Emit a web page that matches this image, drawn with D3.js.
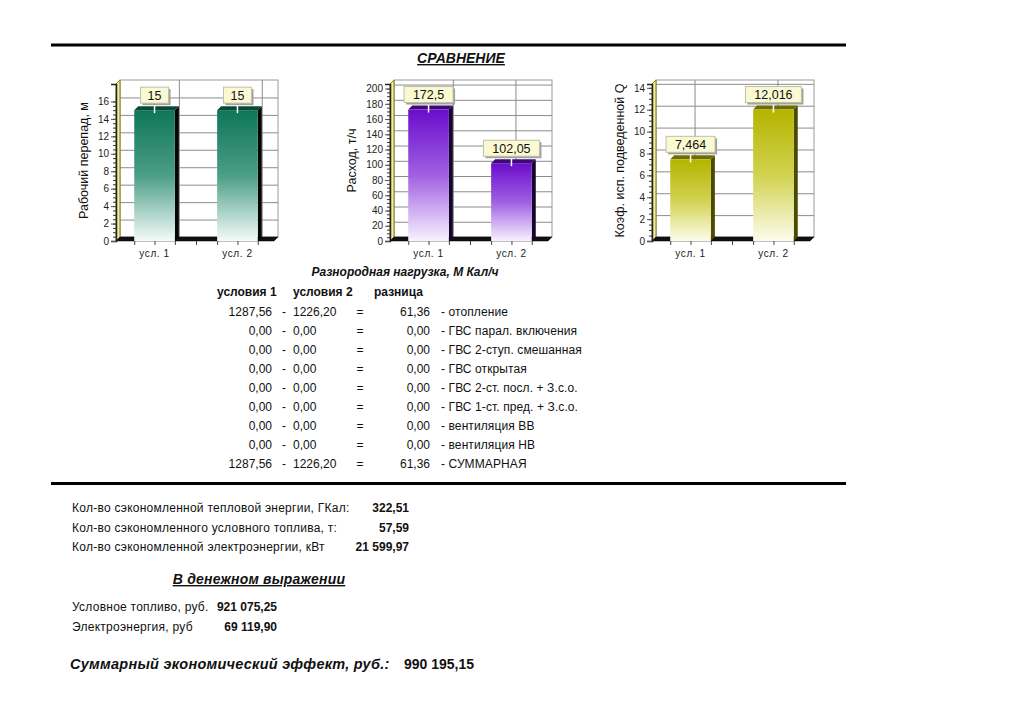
<!DOCTYPE html>
<html><head><meta charset="utf-8">
<script src="https://cdn.jsdelivr.net/npm/d3@7"></script>
<style>
html,body{margin:0;padding:0;background:#fff;}
svg{display:block;font-family:"Liberation Sans",Arial,sans-serif;}
</style></head>
<body>
<svg id="c" width="1023" height="723"></svg>
<script>
// ---------- data ----------
const categories = ["усл. 1", "усл. 2"];
const headValues = [15, 15];
const flowValues = [172.5, 102.05];
const coefValues = [7.464, 12.016];
const headTicks = [0, 2, 4, 6, 8, 10, 12, 14, 16];
const flowTicks = [0, 20, 40, 60, 80, 100, 120, 140, 160, 180, 200];
const coefTicks = [0, 2, 4, 6, 8, 10, 12, 14];
const chartTitles = ["Рабочий перепад, м", "Расход, т/ч", "Коэф. исп. подведенной Q"];

const loadNames = ["отопление", "ГВС парал. включения", "ГВС 2-ступ. смешанная", "ГВС открытая",
  "ГВС 2-ст. посл. + З.с.о.", "ГВС 1-ст. пред. + З.с.о.", "вентиляция ВВ", "вентиляция НВ", "СУММАРНАЯ"];
const cond1Values = [1287.56, 0, 0, 0, 0, 0, 0, 0, 1287.56];
const cond2Values = [1226.20, 0, 0, 0, 0, 0, 0, 0, 1226.20];
const diffValues = [61.36, 0, 0, 0, 0, 0, 0, 0, 61.36];
const tableHeaders = ["условия 1", "условия 2", "разница"];

const savingLabels = ["Кол-во сэкономленной тепловой энергии, ГКал:", "Кол-во сэкономленного условного топлива, т:", "Кол-во сэкономленной электроэнергии, кВт"];
const savingValues = [322.51, 57.59, 21599.97];
const moneyLabels = ["Условное топливо, руб.", "Электроэнергия, руб"];
const moneyValues = [921075.25, 69119.90];
const totalLabel = "Суммарный экономический эффект, руб.:";
const totalValue = 990195.15;

// ---------- helpers ----------
const svg = d3.select("#c");
const ru = d3.formatLocale({decimal: ",", thousands: " ", grouping: [3], currency: ["", ""]});
const fmtPlain = ru.format(".2f");
const fmtGroup = ru.format(",.2f");
const fmtBar = v => String(v).replace(".", ",");

svg.append("rect").attr("width", 1023).attr("height", 723).attr("fill", "#fff");

const defs = svg.append("defs");
const palette = [
  {id: "g1", top: "#0e7657", mid: "#4c9e86", bot: "#f4fbf9", side: "#050505", topFace: "#0a4a37"},
  {id: "g2", top: "#6a0dcc", mid: "#a060e2", bot: "#f8f2fe", side: "#14052a", topFace: "#3e0877"},
  {id: "g3", top: "#b4b400", mid: "#d2d250", bot: "#fcfcec", side: "#4a4a00", topFace: "#6e6e00"}
];
palette.forEach(p => {
  const g = defs.append("linearGradient").attr("id", p.id).attr("x1", 0).attr("y1", 0).attr("x2", 0).attr("y2", 1);
  g.append("stop").attr("offset", "0%").attr("stop-color", p.top);
  g.append("stop").attr("offset", "50%").attr("stop-color", p.mid);
  g.append("stop").attr("offset", "100%").attr("stop-color", p.bot);
});

// ---------- header lines ----------
svg.append("line").attr("x1", 51).attr("x2", 846).attr("y1", 45).attr("y2", 45).attr("stroke", "#000").attr("stroke-width", 3);
svg.append("line").attr("x1", 51).attr("x2", 846).attr("y1", 483.5).attr("y2", 483.5).attr("stroke", "#000").attr("stroke-width", 3);
svg.append("text").attr("x", 461).attr("y", 63).attr("text-anchor", "middle")
  .attr("font-size", 14).attr("font-weight", "bold").attr("font-style", "italic")
  .attr("text-decoration", "underline").attr("fill", "#111").text("СРАВНЕНИЕ");

// ---------- charts ----------
const charts = [
  {L: 116, values: headValues, ticks: headTicks, max: 18, pal: palette[0], title: chartTitles[0], tx: 88, vg: "end"},
  {L: 390, values: flowValues, ticks: flowTicks, max: 206, pal: palette[1], title: chartTitles[1], tx: 356, vg: "mix"},
  {L: 652, values: coefValues, ticks: coefTicks, max: 14.35, pal: palette[2], title: chartTitles[2], tx: 624, vg: "center"}
];
const T = 84, B = 241, W = 158, d = 4;

charts.forEach(c => {
  const L = c.L, R = L + W;
  const g = svg.append("g");
  const y = d3.scaleLinear().domain([0, c.max]).range([B, T]);
  const x = d3.scaleBand().domain(categories).range([L, L + 160]).paddingInner(0.51).paddingOuter(0.22);
  const bw = x.bandwidth();

  // back wall
  g.append("rect").attr("x", L + d).attr("y", T - d).attr("width", W).attr("height", B - T)
    .attr("fill", "#fff").attr("stroke", "#9a9a9a").attr("stroke-width", 1);
  // horizontal grid
  g.selectAll(".hg").data(c.ticks.filter(t => t > 0)).join("line")
    .attr("x1", L + d).attr("x2", R + d)
    .attr("y1", t => y(t) - d + 0.5).attr("y2", t => y(t) - d + 0.5)
    .attr("stroke", "#8c8c8c").attr("stroke-width", 1);
  // vertical grid
  const vgx = categories.map((k, i) => {
    if (c.vg === "end") return x(k) + bw;
    if (c.vg === "center") return x(k) + bw / 2;
    return i === 0 ? x(k) + bw : x(k) + bw / 2;
  });
  g.selectAll(".vg").data(vgx).join("line")
    .attr("x1", v => v + d + 0.5).attr("x2", v => v + d + 0.5)
    .attr("y1", T - d).attr("y2", B - d).attr("stroke", "#8c8c8c").attr("stroke-width", 1);

  // left wall
  g.append("path").attr("d", `M${L},${B}L${L},${T}L${L + d},${T - d}L${L + d},${B - d}Z`)
    .attr("fill", "#f2eea0").attr("stroke", "#7d7d1a").attr("stroke-width", 1);
  // floor
  g.append("path").attr("d", `M${L},${B}L${R},${B}L${R + d},${B - d}L${L + d},${B - d}Z`)
    .attr("fill", "#111").attr("stroke", "#000").attr("stroke-width", 0.5);

  // y axis
  const minor = d3.range(0, c.ticks[c.ticks.length - 1] + 1e-9, (c.ticks[1] - c.ticks[0]) / 4);
  g.selectAll(".mt").data(minor).join("line")
    .attr("x1", L - 3).attr("x2", L).attr("y1", v => y(v) + 0.5).attr("y2", v => y(v) + 0.5)
    .attr("stroke", "#333").attr("stroke-width", 1);
  const axis = d3.axisLeft(y).tickValues(c.ticks).tickSize(5).tickPadding(2).tickFormat(d3.format("d"));
  const ag = g.append("g").attr("transform", `translate(${L},0)`).call(axis);
  ag.select(".domain").attr("stroke", "#222").attr("stroke-width", 1.5);
  ag.selectAll(".tick line").attr("stroke", "#555");
  ag.selectAll(".tick text").attr("font-size", 10).attr("fill", "#222").attr("font-family", "Liberation Sans, Arial, sans-serif");

  // x ticks
  const xt = [];
  categories.forEach(k => { xt.push(x(k), x(k) + bw / 2, x(k) + bw); });
  xt.push((x(categories[0]) + bw + x(categories[1])) / 2);
  g.selectAll(".xt").data(xt).join("line")
    .attr("x1", v => v + 0.5).attr("x2", v => v + 0.5).attr("y1", B).attr("y2", B + 4)
    .attr("stroke", "#444").attr("stroke-width", 1);
  g.selectAll(".xl").data(categories).join("text")
    .attr("x", k => x(k) + bw / 2).attr("y", B + 16).attr("text-anchor", "middle")
    .attr("font-size", 10).attr("fill", "#222").attr("letter-spacing", 0.6).text(k => k);

  // bars
  const data = categories.map((k, i) => ({k, v: c.values[i]}));
  const bars = g.selectAll(".bar").data(data).join("g");
  bars.append("path").attr("d", p => {
    const x0 = x(p.k), x1 = x0 + bw, yt = y(p.v);
    return `M${x1},${yt}L${x1 + d},${yt - d}L${x1 + d},${B - d}L${x1},${B}Z`;
  }).attr("fill", c.pal.side);
  bars.append("path").attr("d", p => {
    const x0 = x(p.k), x1 = x0 + bw, yt = y(p.v);
    return `M${x0},${yt}L${x0 + d},${yt - d}L${x1 + d},${yt - d}L${x1},${yt}Z`;
  }).attr("fill", c.pal.topFace);
  bars.append("rect").attr("x", p => x(p.k)).attr("y", p => y(p.v))
    .attr("width", bw).attr("height", p => B - y(p.v)).attr("fill", `url(#${c.pal.id})`);

  // value labels
  bars.each(function(p) {
    const gg = d3.select(this);
    const cx = x(p.k) + bw / 2, yt = y(p.v);
    const txt = fmtBar(p.v);
    const tw = txt.length * 7 + 14;
    gg.append("line").attr("x1", cx).attr("x2", cx).attr("y1", yt - 7).attr("y2", yt + 3)
      .attr("stroke", "#fff").attr("stroke-width", 1.5);
    gg.append("rect").attr("x", cx - tw / 2 + 2).attr("y", yt - 23 + 2).attr("width", tw).attr("height", 16)
      .attr("fill", "#a0a0a0");
    gg.append("rect").attr("x", cx - tw / 2).attr("y", yt - 23).attr("width", tw).attr("height", 16)
      .attr("fill", "#fbf9d2").attr("stroke", "#c0c0a8").attr("stroke-width", 1);
    gg.append("text").attr("x", cx).attr("y", yt - 10.5).attr("text-anchor", "middle")
      .attr("font-size", 12.5).attr("fill", "#111").text(txt);
  });

  // y title
  g.append("text").attr("transform", `translate(${c.tx},${(T + B) / 2 - 2}) rotate(-90)`)
    .attr("text-anchor", "middle").attr("font-size", 12.5).attr("fill", "#111").text(c.title);
});

// ---------- load table ----------
const tbl = svg.append("g").attr("font-size", 12).attr("fill", "#111");
tbl.append("text").attr("x", 405).attr("y", 276).attr("text-anchor", "middle")
  .attr("font-weight", "bold").attr("font-style", "italic").attr("font-size", 12)
  .text("Разнородная нагрузка, М Кал/ч");
const hx = [217, 293, 374];
tbl.selectAll(".th").data(tableHeaders).join("text")
  .attr("x", (t, i) => hx[i]).attr("y", 296).attr("font-weight", "bold").attr("font-size", 12).text(t => t);
const rowY = i => 315.5 + i * 19;
const rows = tbl.selectAll(".row").data(loadNames).join("g");
rows.append("text").attr("x", 272).attr("y", (n, i) => rowY(i)).attr("text-anchor", "end").text((n, i) => fmtPlain(cond1Values[i]));
rows.append("text").attr("x", 284).attr("y", (n, i) => rowY(i)).attr("text-anchor", "middle").text("-");
rows.append("text").attr("x", 293).attr("y", (n, i) => rowY(i)).text((n, i) => fmtPlain(cond2Values[i]));
rows.append("text").attr("x", 360).attr("y", (n, i) => rowY(i)).attr("text-anchor", "middle").text("=");
rows.append("text").attr("x", 430).attr("y", (n, i) => rowY(i)).attr("text-anchor", "end").text((n, i) => fmtPlain(diffValues[i]));
rows.append("text").attr("x", 441).attr("y", (n, i) => rowY(i)).attr("letter-spacing", 0.1).text(n => "- " + n);

// ---------- savings ----------
const sv = svg.append("g").attr("font-size", 12).attr("fill", "#111");
const svY = i => 512 + i * 19.5;
sv.selectAll(".sl").data(savingLabels).join("text").attr("x", 72).attr("y", (t, i) => svY(i))
  .attr("letter-spacing", 0.25).text(t => t);
sv.selectAll(".sv").data(savingValues).join("text").attr("x", 409).attr("y", (t, i) => svY(i))
  .attr("text-anchor", "end").attr("font-weight", "bold").text(v => fmtGroup(v));

svg.append("text").attr("x", 259).attr("y", 584).attr("text-anchor", "middle")
  .attr("font-size", 14).attr("font-weight", "bold").attr("font-style", "italic")
  .attr("text-decoration", "underline").attr("fill", "#111").attr("letter-spacing", 0.2).text("В денежном выражении");

const mY = i => 611 + i * 20;
sv.selectAll(".ml").data(moneyLabels).join("text").attr("x", 72).attr("y", (t, i) => mY(i))
  .attr("letter-spacing", 0.25).text(t => t);
sv.selectAll(".mv").data(moneyValues).join("text").attr("x", 277).attr("y", (t, i) => mY(i))
  .attr("text-anchor", "end").attr("font-weight", "bold").text(v => fmtGroup(v));

svg.append("text").attr("x", 70).attr("y", 669).attr("font-size", 14.5).attr("font-weight", "bold")
  .attr("font-style", "italic").attr("fill", "#111").attr("letter-spacing", 0.25).text(totalLabel);
svg.append("text").attr("x", 474).attr("y", 669).attr("text-anchor", "end").attr("font-size", 14)
  .attr("font-weight", "bold").attr("fill", "#111").text(fmtGroup(totalValue));
</script>
</body></html>
